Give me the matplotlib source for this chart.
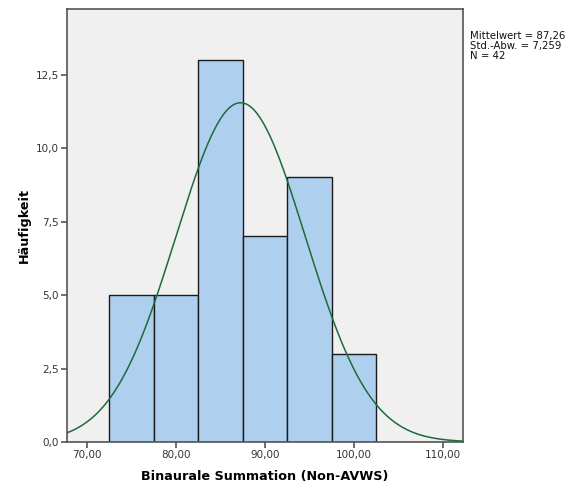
import numpy as np
import matplotlib.pyplot as plt

# histogram of binaural summation scores
bin_edges = [72.5, 77.5, 82.5, 87.5, 92.5, 97.5, 102.5]
counts = [5, 5, 13, 7, 9, 3]
mean = 87.26
std = 7.259
n = 42

x_ticks = [70, 80, 90, 100, 110]
y_ticks = [0.0, 2.5, 5.0, 7.5, 10.0, 12.5]


def de_fmt(v, digits):
    return f"{v:.{digits}f}".replace(".", ",")


fig = plt.figure(figsize=(5.75, 4.91), dpi=100)
ax = fig.add_axes([0.1165, 0.0998, 0.6887, 0.8819])
ax.set_facecolor("#f0f0f0")

widths = np.diff(bin_edges)
ax.bar(bin_edges[:-1], counts, width=widths, align="edge",
       color="#aed0ee", edgecolor="#1a1a1a", linewidth=1.0, zorder=2)

# fitted normal curve scaled to counts
xs = np.linspace(67.75, 112.25, 400)
bw = widths[0]
ys = n * bw / (std * np.sqrt(2 * np.pi)) * np.exp(-0.5 * ((xs - mean) / std) ** 2)
ax.plot(xs, ys, color="#1f6a3c", linewidth=1.1, zorder=3)

ax.set_xlim(67.75, 112.25)
ax.set_ylim(0, 14.73)
ax.set_xticks(x_ticks)
ax.set_xticklabels([de_fmt(v, 2) for v in x_ticks])
ax.set_yticks(y_ticks)
ax.set_yticklabels([de_fmt(v, 1) for v in y_ticks])

for side in ax.spines.values():
    side.set_color("#555555")
    side.set_linewidth(1.2)
ax.tick_params(direction="out", length=4, width=1.2, color="#555555",
               labelsize=7.5, labelcolor="#333333", pad=2)

ax.set_xlabel("Binaurale Summation (Non-AVWS)", fontsize=9.2, fontweight="bold",
              labelpad=7)
ax.set_ylabel("Häufigkeit", fontsize=9.2, fontweight="bold", labelpad=3)

fig.text(0.817, 0.937,
         f"Mittelwert = {de_fmt(mean, 2)}\nStd.-Abw. = {de_fmt(std, 3)}\nN = {n}",
         fontsize=7.3, va="top", ha="left", linespacing=1.0, color="#111111")

fig.savefig("out.png", dpi=100)
